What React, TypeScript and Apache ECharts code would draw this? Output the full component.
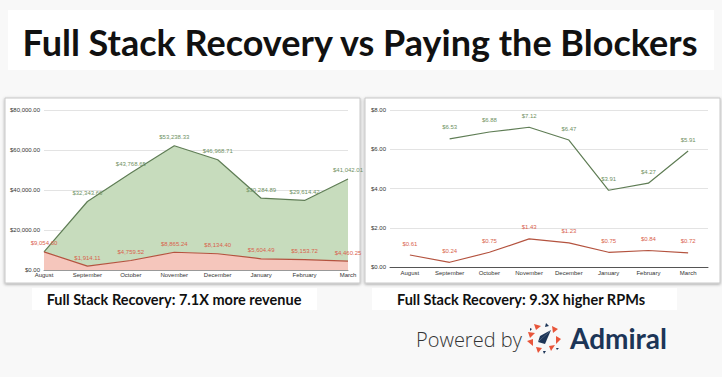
import React, { useEffect, useRef } from "react";
import * as echarts from "echarts";

const months = ["August", "September", "October", "November", "December", "January", "February", "March"];
const revenueFullStack = [0, 32343.66, 43768.65, 53238.33, 46968.71, 30284.89, 29614.42, 41042.01];
const revenueBlockers = [9054.6, 1914.11, 4759.52, 8865.24, 8134.4, 5604.49, 5153.72, 4460.25];
const rpmFullStack = [null, 6.53, 6.88, 7.12, 6.47, 3.91, 4.27, 5.91];
const rpmBlockers = [0.61, 0.24, 0.75, 1.43, 1.23, 0.75, 0.84, 0.72];
const revenueTicks = [0, 20000, 40000, 60000, 80000];
const rpmTicks = [0, 2, 4, 6, 8];

const titleText = "Full Stack Recovery vs Paying the Blockers";
const leftCaption = "Full Stack Recovery: 7.1X more revenue";
const rightCaption = "Full Stack Recovery: 9.3X higher RPMs";

const GREEN_LINE = "#5f7d55";
const GREEN_FILL = "#c7dcbd";
const GREEN_LABEL = "#6f9163";
const RED_LINE = "#b4533f";
const RED_FILL = "#f5c6bc";
const RED_LABEL = "#d9634d";
const NAVY = "#1c3557";
const ORANGE = "#e8553a";

const money = (v: number) =>
  "$" + v.toLocaleString("en-US", { minimumFractionDigits: 2, maximumFractionDigits: 2 });

export default function App() {
  const ref = useRef<HTMLDivElement>(null);
  useEffect(() => {
    if (!ref.current) return;
    const chart = echarts.init(ref.current, undefined, { renderer: "svg" });
    const axisFont = { fontFamily: "Liberation Sans", fontSize: 6, color: "#333" };
    const labelFont = (color: string) => ({
      show: true,
      position: "top" as const,
      distance: 5,
      fontFamily: "Liberation Sans",
      fontSize: 6,
      color,
    });
    const hiddenSymbol = {
      symbol: "circle",
      symbolSize: 1,
      showSymbol: true,
      itemStyle: { color: "rgba(0,0,0,0)", borderWidth: 0 },
    };
    const cx = 544;
    const cy = 338;
    const tri = (pts: number[][], fill: string) => ({
      type: "polygon",
      shape: { points: pts.map(([dx, dy]) => [cx + dx, cy + dy]) },
      style: { fill },
    });
    chart.setOption({
      animation: false,
      backgroundColor: "#f8f8f8",
      graphic: [
        { type: "rect", shape: { x: 8, y: 10, width: 706, height: 60 }, style: { fill: "#ffffff" }, z: -10 },
        {
          type: "text",
          x: 360,
          y: 42,
          style: {
            text: titleText,
            fontFamily: "Lato",
            fontWeight: "bold",
            fontSize: 36,
            fill: "#111",
            align: "center",
            verticalAlign: "middle",
          },
        },
        {
          type: "rect",
          shape: { x: 5, y: 98, width: 355, height: 185 },
          style: { fill: "#fff", stroke: "#c8c8c8", lineWidth: 1, shadowBlur: 3, shadowColor: "rgba(0,0,0,0.35)", shadowOffsetY: 1 },
          z: -10,
        },
        {
          type: "rect",
          shape: { x: 365, y: 98, width: 355, height: 185 },
          style: { fill: "#fff", stroke: "#c8c8c8", lineWidth: 1, shadowBlur: 3, shadowColor: "rgba(0,0,0,0.35)", shadowOffsetY: 1 },
          z: -10,
        },
        { type: "rect", shape: { x: 32, y: 288, width: 285, height: 22 }, style: { fill: "#fff" }, z: -10 },
        { type: "rect", shape: { x: 372, y: 288, width: 305, height: 22 }, style: { fill: "#fff" }, z: -10 },
        {
          type: "text",
          x: 174,
          y: 299,
          style: { text: leftCaption, fontFamily: "Lato", fontWeight: "bold", fontSize: 14.5, fill: "#111", align: "center", verticalAlign: "middle" },
        },
        {
          type: "text",
          x: 521,
          y: 299,
          style: { text: rightCaption, fontFamily: "Lato", fontWeight: "bold", fontSize: 14.5, fill: "#111", align: "center", verticalAlign: "middle" },
        },
        {
          type: "text",
          x: 416,
          y: 339,
          style: { text: "Powered by", fontFamily: "Open Sans", fontWeight: 300, fontSize: 20, fill: "#333", align: "left", verticalAlign: "middle" },
        },
        {
          type: "text",
          x: 570,
          y: 338,
          style: { text: "Admiral", fontFamily: "Lato", fontWeight: "bold", fontSize: 28, fill: NAVY, align: "left", verticalAlign: "middle" },
        },
        // logo pinwheel
        tri([[-10, -14], [-3, -12], [-8, -8]], ORANGE),
        tri([[2, -15], [5, -12], [1, -11]], NAVY),
        tri([[8, -12], [14, -9], [9, -5]], ORANGE),
        tri([[-16, -6], [-9, -5], [-14, 0]], ORANGE),
        tri([[-17, 3], [-11, 1], [-11, 8]], ORANGE),
        tri([[12, -2], [17, 1], [12, 6]], ORANGE),
        tri([[-8, 9], [-2, 10], [-6, 15]], ORANGE),
        tri([[5, 8], [11, 7], [7, 13]], ORANGE),
        tri([[-1, 13], [2, 13], [0, 16]], NAVY),
        tri([[-14, -10], [-12, -9], [-14, -7]], NAVY),
        tri([[15, 10], [13, 12], [12, 10]], NAVY),
        tri([[-6, 4], [7, -8], [1, 6]], NAVY),
        tri([[-6, 4], [7, -8], [-4, -2]], NAVY),
      ],
      grid: [
        { left: 44, top: 110, width: 304, height: 160 },
        { left: 390, top: 110, width: 318, height: 157 },
      ],
      xAxis: [
        {
          gridIndex: 0,
          type: "category",
          data: months,
          boundaryGap: false,
          axisLine: { lineStyle: { color: "#999", width: 1 } },
          axisTick: { show: false },
          axisLabel: { ...axisFont, margin: 2 },
        },
        {
          gridIndex: 1,
          type: "category",
          data: months,
          boundaryGap: true,
          axisLine: { lineStyle: { color: "#555", width: 1 } },
          axisTick: { show: false },
          axisLabel: { ...axisFont, margin: 3 },
        },
      ],
      yAxis: [
        {
          gridIndex: 0,
          type: "value",
          min: revenueTicks[0],
          max: revenueTicks[revenueTicks.length - 1],
          interval: revenueTicks[1] - revenueTicks[0],
          axisLine: { show: false },
          axisTick: { show: false },
          splitLine: { lineStyle: { color: "#e3e3e3" } },
          axisLabel: { ...axisFont, margin: 4, formatter: (v: number) => money(v) },
        },
        {
          gridIndex: 1,
          type: "value",
          min: rpmTicks[0],
          max: rpmTicks[rpmTicks.length - 1],
          interval: rpmTicks[1] - rpmTicks[0],
          axisLine: { show: false },
          axisTick: { show: false },
          splitLine: { lineStyle: { color: "#e3e3e3" } },
          axisLabel: { ...axisFont, margin: 4, formatter: (v: number) => money(v) },
        },
      ],
      series: [
        {
          name: "Paying the Blockers",
          type: "line",
          xAxisIndex: 0,
          yAxisIndex: 0,
          stack: "rev",
          data: revenueBlockers,
          ...hiddenSymbol,
          lineStyle: { color: RED_LINE, width: 1.2 },
          areaStyle: { color: RED_FILL, opacity: 1 },
          label: { ...labelFont(RED_LABEL), formatter: (p: any) => money(p.value) },
          z: 3,
        },
        {
          name: "Full Stack Recovery",
          type: "line",
          xAxisIndex: 0,
          yAxisIndex: 0,
          stack: "rev",
          data: revenueFullStack,
          ...hiddenSymbol,
          lineStyle: { color: GREEN_LINE, width: 1.2 },
          areaStyle: { color: GREEN_FILL, opacity: 1 },
          label: { ...labelFont(GREEN_LABEL), formatter: (p: any) => (p.value ? money(p.value) : "") },
          z: 2,
        },
        {
          name: "Full Stack Recovery RPM",
          type: "line",
          xAxisIndex: 1,
          yAxisIndex: 1,
          data: rpmFullStack,
          ...hiddenSymbol,
          lineStyle: { color: GREEN_LINE, width: 1.2 },
          label: { ...labelFont(GREEN_LABEL), distance: 8, formatter: (p: any) => money(p.value) },
        },
        {
          name: "Paying the Blockers RPM",
          type: "line",
          xAxisIndex: 1,
          yAxisIndex: 1,
          data: rpmBlockers,
          ...hiddenSymbol,
          lineStyle: { color: RED_LINE, width: 1.2 },
          label: { ...labelFont(RED_LABEL), distance: 8, formatter: (p: any) => money(p.value) },
        },
      ],
    });
    return () => chart.dispose();
  }, []);
  return <div ref={ref} style={{ position: "fixed", left: 0, top: 0, width: 722, height: 377 }} />;
}
